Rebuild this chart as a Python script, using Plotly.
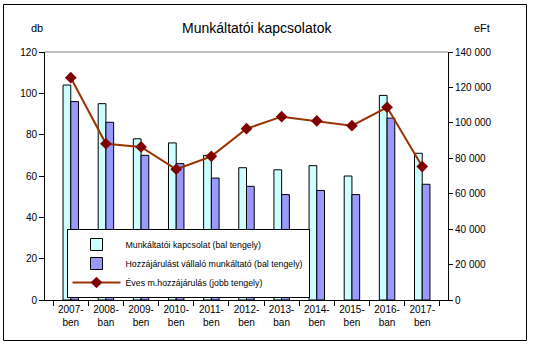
import plotly.graph_objects as go

categories = ["2007-<br>ben", "2008-<br>ban", "2009-<br>ben", "2010-<br>ben", "2011-<br>ben",
              "2012-<br>ben", "2013-<br>ban", "2014-<br>ben", "2015-<br>ben", "2016-<br>ban", "2017-<br>ben"]
kapcsolat = [104, 95, 78, 76, 70, 64, 63, 65, 60, 99, 71]
vallalo = [96, 86, 70, 66, 59, 55, 51, 53, 51, 88, 56]
hozzajarulas = [125500, 88200, 86400, 73800, 81100, 96700, 103500, 101100, 98400, 108800, 75300]

FONT = "Liberation Sans, Arial, sans-serif"

L, R, T, B = 45, 85, 52, 47
W, H = 533, 347
pw, ph = W - L - R, H - T - B

def px(xp):
    return (xp - L) / pw

def py(yp):
    return (H - B - yp) / ph

fig = go.Figure()
fig.add_trace(go.Bar(x=categories, y=kapcsolat, name="Munkáltatói kapcsolat (bal tengely)",
                     marker=dict(color="#CCFFFF", line=dict(color="black", width=1))))
fig.add_trace(go.Bar(x=categories, y=vallalo, name="Hozzájárulást vállaló munkáltató (bal tengely)",
                     marker=dict(color="#9999FF", line=dict(color="black", width=1))))
fig.add_trace(go.Scatter(x=categories, y=hozzajarulas, name="Éves m.hozzájárulás (jobb tengely)",
                         yaxis="y2", mode="lines+markers",
                         line=dict(color="#993300", width=2),
                         marker=dict(symbol="diamond", size=9, color="#800000")))

fig.update_layout(
    width=W, height=H,
    margin=dict(l=L, r=R, t=T, b=B),
    paper_bgcolor="white", plot_bgcolor="white",
    font=dict(family=FONT, size=10, color="black"),
    separators=", ",
    barmode="group", bargap=0.56, bargroupgap=0,
    showlegend=True,
    legend=dict(x=px(66.5), y=py(229), xanchor="left", yanchor="top",
                bgcolor="white", bordercolor="black", borderwidth=1,
                font=dict(family=FONT, size=8.8), itemwidth=48,
                tracegroupgap=0),
    xaxis=dict(type="category", showline=True, linecolor="black", linewidth=1,
               ticks="outside", ticklen=5, tickcolor="black", tickson="boundaries",
               showgrid=False, zeroline=False, tickfont=dict(size=10)),
    yaxis=dict(range=[0, 120], dtick=20, showline=True, linecolor="black", linewidth=1,
               ticks="outside", ticklen=5, tickcolor="black", showgrid=False, zeroline=False,
               tickfont=dict(size=10)),
    yaxis2=dict(range=[0, 140000], dtick=20000, overlaying="y", side="right",
                showline=True, linecolor="black", linewidth=1, tickformat=",",
                ticks="outside", ticklen=4, tickcolor="black", showgrid=False, zeroline=False,
                tickfont=dict(size=10)),
    shapes=[
        dict(type="line", xref="paper", yref="paper", x0=0, x1=1, y0=1, y1=1,
             line=dict(color="#808080", width=1)),
        dict(type="rect", xref="paper", yref="paper", x0=px(3.5), x1=px(526.5),
             y0=py(340.5), y1=py(4.5), line=dict(color="black", width=1)),
    ],
    annotations=[
        dict(text="Munkáltatói kapcsolatok", x=px(256.5), y=py(28), xref="paper", yref="paper",
             showarrow=False, xanchor="center", yanchor="middle", font=dict(size=14)),
        dict(text="db", x=px(36.5), y=py(28), xref="paper", yref="paper",
             showarrow=False, xanchor="center", yanchor="middle", font=dict(size=11)),
        dict(text="eFt", x=px(482), y=py(28), xref="paper", yref="paper",
             showarrow=False, xanchor="center", yanchor="middle", font=dict(size=11)),
    ],
)

fig.write_html("out.html")
